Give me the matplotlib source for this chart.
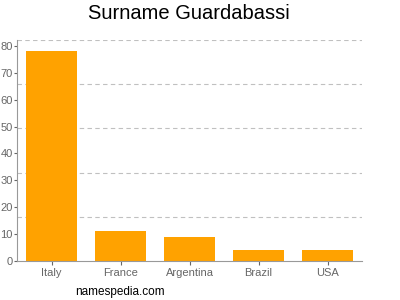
import matplotlib
matplotlib.use("Agg")
import matplotlib.pyplot as plt

plt.rcParams["font.family"] = ["Liberation Sans", "DejaVu Sans"]

countries = ["Italy", "France", "Argentina", "Brazil", "USA"]
counts = [78, 11, 9, 4, 4]
yticks = [0, 10, 20, 30, 40, 50, 60, 70, 80]
ymax = 82.2

fig = plt.figure(figsize=(4, 3), dpi=100)
ax = fig.add_axes([0.0425, 0.13, 0.8625, 0.7367])

ax.bar(range(len(countries)), counts, width=0.725, color="#ffa200", zorder=2)
ax.set_xlim(-0.5, len(countries) - 0.5)
ax.set_ylim(0, ymax)

# dashed grid at fifths of the axis height
for k in range(1, 6):
    ax.axhline(ymax * k / 5, color="#c0c0c0", lw=0.8, ls=(0, (4, 3)), zorder=1)

ax.set_yticks(yticks)
ax.set_xticks(range(len(countries)))
ax.set_xticklabels(countries)
ax.tick_params(colors="#666666", labelsize=8, length=3, width=0.8, pad=2)
ax.tick_params(axis="y", length=2, pad=1)

for s in ["top", "right"]:
    ax.spines[s].set_visible(False)
for s in ["left", "bottom"]:
    ax.spines[s].set_color("#999999")
    ax.spines[s].set_linewidth(0.8)

fig.text(0.471, 0.955, "Surname Guardabassi", ha="center", va="center", fontsize=14.5)
fig.text(0.3, 0.027, "namespedia.com", ha="center", va="center", fontsize=8.5)

fig.savefig("out.png", dpi=100)
